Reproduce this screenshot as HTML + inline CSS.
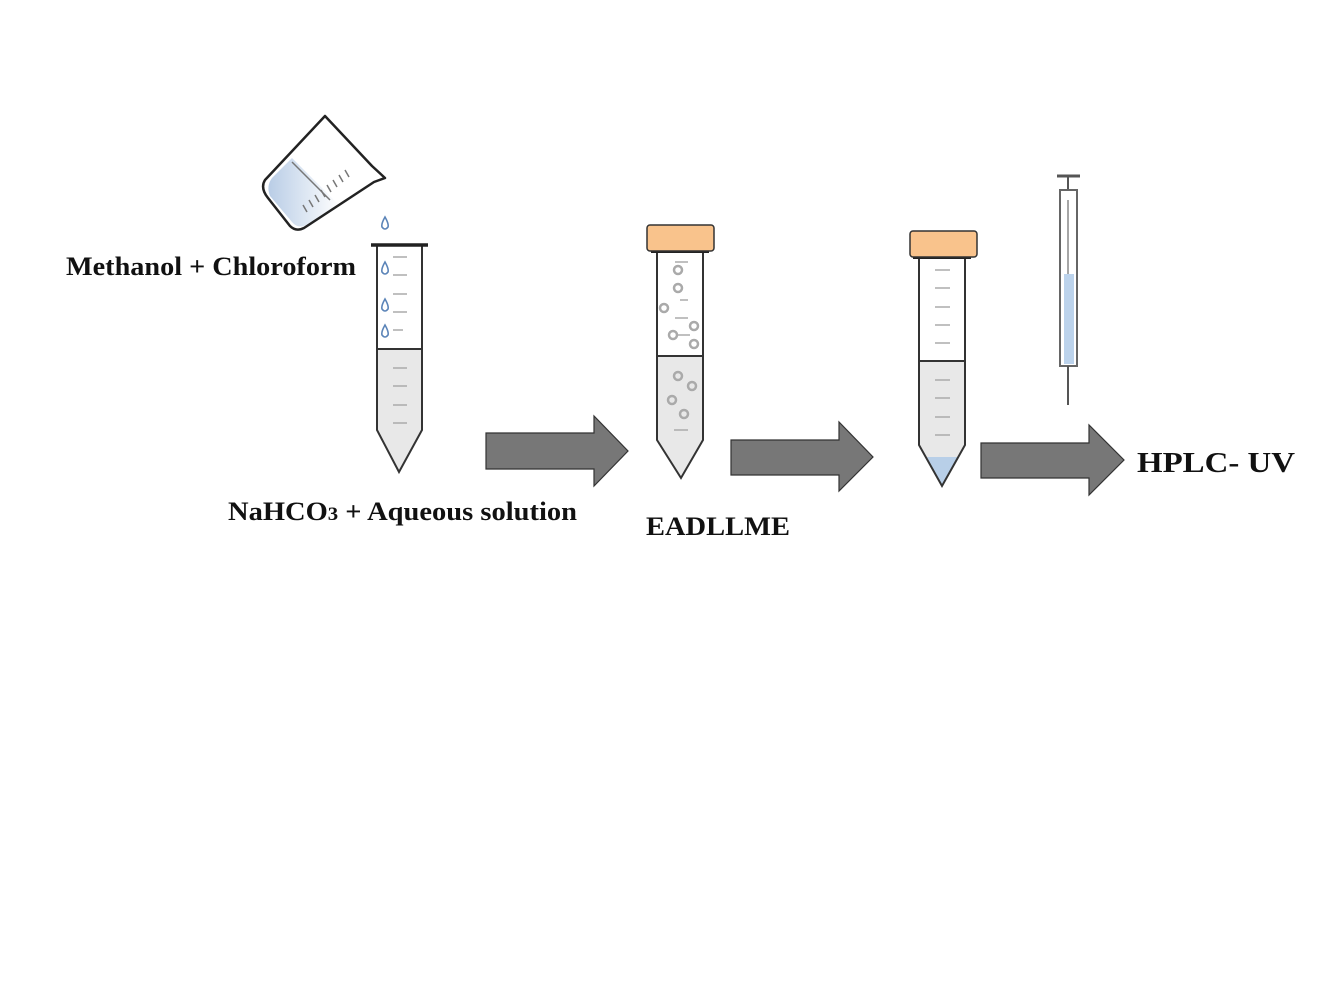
<!DOCTYPE html>
<html><head><meta charset="utf-8"><style>
html,body{margin:0;padding:0;background:#fff;}
svg{display:block;}
text{font-family:"Liberation Serif",serif;font-weight:bold;fill:#111;}
</style></head><body>
<svg width="1328" height="996" viewBox="0 0 1328 996" xmlns="http://www.w3.org/2000/svg">
<defs>
<linearGradient id="bk" x1="0" y1="0" x2="1" y2="0">
<stop offset="0" stop-color="#b9cde6"/><stop offset="1" stop-color="#fff"/>
</linearGradient>
</defs>
<!-- beaker -->
<path d="M272,178 L292,158 L340,206 L304,226 Q297,228 292,222 L270,196 Q266,186 272,178Z" fill="url(#bk)"/>
<path d="M265,180 L325,116 L372,166 L385,178 L374,182 L304,228 Q296,232 290,226 L268,198 Q260,188 265,180 Z" fill="none" stroke="#222" stroke-width="2.5" stroke-linejoin="round"/>
<g stroke="#777" stroke-width="1.5">
<line x1="292" y1="162" x2="330" y2="200"/>
<line x1="303" y1="205" x2="307" y2="212"/><line x1="309" y1="200" x2="313" y2="207"/>
<line x1="315" y1="195" x2="319" y2="202"/><line x1="321" y1="190" x2="325" y2="197"/>
<line x1="327" y1="185" x2="331" y2="192"/><line x1="333" y1="180" x2="337" y2="187"/>
<line x1="339" y1="175" x2="343" y2="182"/><line x1="345" y1="170" x2="349" y2="177"/>
</g>
<!-- drops -->
<g fill="none" stroke="#5b84b8" stroke-width="1.6">
<path d="M385,217 Q381,224 382,227 Q385,231 388,227 Q389,224 385,217Z"/>
<path d="M385,262 Q381,269 382,272 Q385,276 388,272 Q389,269 385,262Z"/>
<path d="M385,299 Q381,306 382,309 Q385,313 388,309 Q389,306 385,299Z"/>
<path d="M385,325 Q381,332 382,335 Q385,339 388,335 Q389,332 385,325Z"/>
</g>
<!-- tube 1 -->
<path d="M377,349 L422,349 L422,430 L399,472 L377,430Z" fill="#e8e8e8"/>
<path d="M377,246 L377,430 L399,472 L422,430 L422,246" fill="none" stroke="#333" stroke-width="2"/>
<line x1="371" y1="245" x2="428" y2="245" stroke="#222" stroke-width="3.5"/>
<line x1="377" y1="349" x2="422" y2="349" stroke="#333" stroke-width="2"/>
<g stroke="#aaa" stroke-width="1.5">
<line x1="393" y1="257" x2="407" y2="257"/><line x1="393" y1="275" x2="407" y2="275"/>
<line x1="393" y1="294" x2="407" y2="294"/><line x1="393" y1="312" x2="407" y2="312"/>
<line x1="393" y1="330" x2="403" y2="330"/><line x1="393" y1="368" x2="407" y2="368"/>
<line x1="393" y1="386" x2="407" y2="386"/><line x1="393" y1="405" x2="407" y2="405"/>
<line x1="393" y1="423" x2="407" y2="423"/>
</g>
<!-- tube 2 -->
<path d="M657,356 L703,356 L703,440 L681,478 L657,440Z" fill="#e8e8e8"/>
<path d="M657,252 L657,440 L681,478 L703,440 L703,252" fill="none" stroke="#333" stroke-width="2"/>
<line x1="657" y1="356" x2="703" y2="356" stroke="#333" stroke-width="2"/>
<rect x="651" y="249" width="58" height="4" fill="#222"/>
<rect x="647" y="225" width="67" height="26" rx="3" fill="#f9c38c" stroke="#333" stroke-width="1.5"/>
<g fill="none" stroke="#aaa" stroke-width="2.5">
<circle cx="678" cy="270" r="4"/><circle cx="678" cy="288" r="4"/><circle cx="664" cy="308" r="4"/>
<circle cx="673" cy="335" r="4"/><circle cx="694" cy="326" r="4"/><circle cx="694" cy="344" r="4"/>
<circle cx="678" cy="376" r="4"/><circle cx="692" cy="386" r="4"/><circle cx="672" cy="400" r="4"/><circle cx="684" cy="414" r="4"/>
</g>
<g stroke="#aaa" stroke-width="1.5">
<line x1="675" y1="262" x2="688" y2="262"/><line x1="680" y1="300" x2="688" y2="300"/>
<line x1="675" y1="318" x2="688" y2="318"/><line x1="676" y1="335" x2="690" y2="335"/>
<line x1="674" y1="430" x2="688" y2="430"/>
</g>
<!-- tube 3 -->
<path d="M919,361 L965,361 L965,445 L942,486 L919,445Z" fill="#e8e8e8"/>
<path d="M927,457 L958,457 L942,486Z" fill="#b8cfe8"/>
<path d="M919,258 L919,445 L942,486 L965,445 L965,258" fill="none" stroke="#333" stroke-width="2"/>
<line x1="919" y1="361" x2="965" y2="361" stroke="#333" stroke-width="2"/>
<rect x="913" y="255" width="58" height="4" fill="#222"/>
<rect x="910" y="231" width="67" height="26" rx="3" fill="#f9c38c" stroke="#333" stroke-width="1.5"/>
<g stroke="#aaa" stroke-width="1.5">
<line x1="935" y1="270" x2="950" y2="270"/><line x1="935" y1="288" x2="950" y2="288"/>
<line x1="935" y1="307" x2="950" y2="307"/><line x1="935" y1="325" x2="950" y2="325"/>
<line x1="935" y1="343" x2="950" y2="343"/><line x1="935" y1="380" x2="950" y2="380"/>
<line x1="935" y1="398" x2="950" y2="398"/><line x1="935" y1="417" x2="950" y2="417"/>
<line x1="935" y1="435" x2="950" y2="435"/>
</g>
<!-- syringe -->
<line x1="1057" y1="176" x2="1080" y2="176" stroke="#555" stroke-width="3"/>
<line x1="1068" y1="176" x2="1068" y2="190" stroke="#555" stroke-width="2"/>
<rect x="1060" y="190" width="17" height="176" fill="#fff" stroke="#666" stroke-width="2"/>
<rect x="1064" y="274" width="10" height="90" fill="#bcd3ec"/>
<line x1="1068" y1="200" x2="1068" y2="274" stroke="#888" stroke-width="1.5"/>
<line x1="1068" y1="366" x2="1068" y2="405" stroke="#555" stroke-width="2"/>
<!-- arrows -->
<g fill="#777" stroke="#333" stroke-width="1.2">
<path d="M486,433 L594,433 L594,416 L628,451 L594,486 L594,469 L486,469Z"/>
<path d="M731,440 L839,440 L839,422 L873,457 L839,491 L839,475 L731,475Z"/>
<path d="M981,443 L1089,443 L1089,425 L1124,460 L1089,495 L1089,478 L981,478Z"/>
</g>
<!-- labels -->
<text x="66" y="275" font-size="26" textLength="290" lengthAdjust="spacingAndGlyphs">Methanol + Chloroform</text>
<text x="228" y="520" font-size="26" textLength="349" lengthAdjust="spacingAndGlyphs">NaHCO<tspan font-size="19">3</tspan> + Aqueous solution</text>
<text x="646" y="535" font-size="26" textLength="144" lengthAdjust="spacingAndGlyphs">EADLLME</text>
<text x="1137" y="472" font-size="28" textLength="158" lengthAdjust="spacingAndGlyphs">HPLC- UV</text>
</svg>
</body></html>
